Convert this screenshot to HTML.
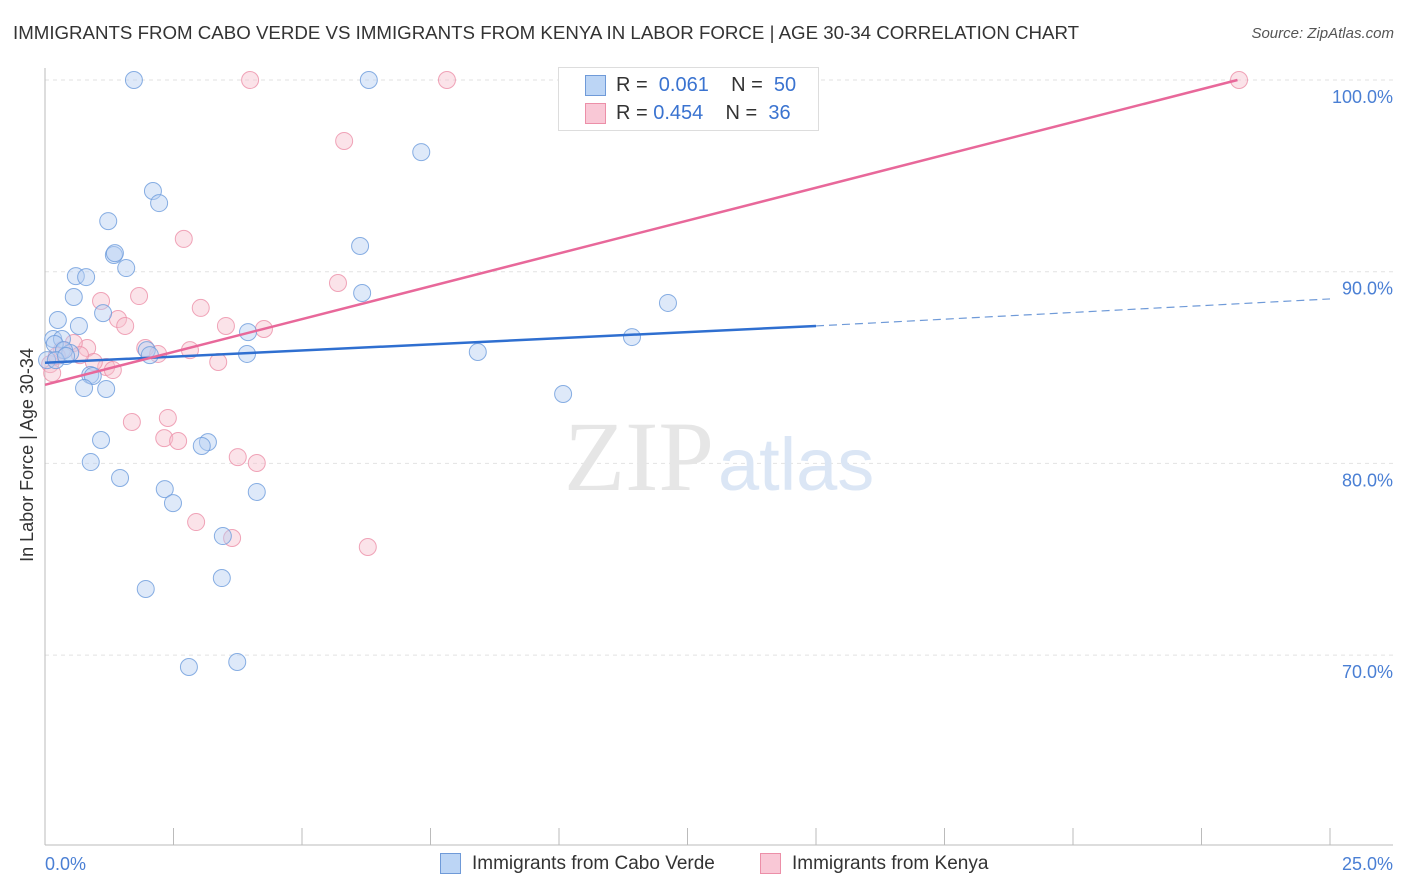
<!DOCTYPE html>
<html><head><meta charset="utf-8">
<style>
body{margin:0;background:#fff;font-family:"Liberation Sans",sans-serif;}
#wrap{position:relative;width:1406px;height:892px;overflow:hidden;}
.t{position:absolute;white-space:nowrap;}
</style></head>
<body>
<div id="wrap">
<div class="t" style="left:13px;top:22px;font-size:18.7px;color:#333;">IMMIGRANTS FROM CABO VERDE VS IMMIGRANTS FROM KENYA IN LABOR FORCE | AGE 30-34 CORRELATION CHART</div>
<div class="t" style="right:12px;top:25px;font-size:15px;color:#555;font-style:italic;">Source: ZipAtlas.com</div>
<svg id="svg" width="1406" height="892" style="position:absolute;left:0;top:0"></svg>
</div>
<script>
const xTickLabels=["0.0%","25.0%"];
const yTicks=[100,90,80,70];
const blueX=[1.73,6.30,7.32,2.10,2.22,1.23,1.34,1.36,1.58,0.60,0.80,6.13,0.56,6.17,1.13,0.25,0.66,3.95,11.42,12.12,0.16,0.33,0.19,0.49,1.98,2.04,3.93,8.42,0.04,0.88,0.93,0.76,1.19,10.08,1.09,3.17,3.05,0.89,1.46,2.33,4.12,2.49,3.46,3.44,1.96,2.80,3.74,0.37,0.21,0.41];
const blueY=[100,100,96.24,94.21,93.58,92.64,90.87,90.97,90.19,89.77,89.72,91.34,88.68,88.89,87.84,87.48,87.17,86.85,86.59,88.37,86.49,86.49,86.23,85.76,85.91,85.65,85.71,85.81,85.39,84.61,84.56,83.93,83.88,83.62,81.22,81.11,80.91,80.07,79.24,78.66,78.51,77.93,76.21,74.02,73.45,69.38,69.64,85.91,85.39,85.60];
const pinkX=[3.99,7.82,23.23,5.82,2.70,5.70,1.83,1.09,3.03,1.42,1.56,3.52,4.26,1.95,0.82,2.82,2.20,0.56,0.33,3.37,1.19,1.32,0.95,0.10,0.14,1.69,2.39,2.32,2.59,3.75,4.12,2.94,3.64,6.28,0.23,0.68];
const pinkY=[100,100,100,96.82,91.71,89.41,88.73,88.47,88.11,87.53,87.17,87.17,87.01,86.02,86.02,85.91,85.71,86.28,85.91,85.29,85.03,84.87,85.29,85.18,84.71,82.16,82.37,81.32,81.17,80.33,80.02,76.94,76.11,75.64,85.60,85.65];
const blueTrend=[[0,85.25],[15,87.17],[25,88.58]];
const pinkTrend=[[0,84.1],[23.2,100]];

const NS="http://www.w3.org/2000/svg";
const svg=document.getElementById('svg');
const X=v=>45+v/25*1285;
const Y=v=>80+(100-v)*19.17;
function mk(tag,a,parent){const e=document.createElementNS(NS,tag);for(const k in a)e.setAttribute(k,a[k]);(parent||svg).appendChild(e);return e;}

yTicks.forEach(v=>{
 const l=mk('line',{x1:45,x2:1393,y1:Y(v),y2:Y(v),stroke:'#e2e2e2','stroke-dasharray':'4,4'});
 
 
 const t=mk('text',{x:1393,y:Y(v)+23,'text-anchor':'end','font-size':18,fill:'#4a7fd4','font-family':'Liberation Sans'});
 t.textContent=v.toFixed(1)+'%';
 
 
});
const ax=mk('line',{x1:45,x2:45,y1:68,y2:845,stroke:'#bbb'});


const axx=mk('line',{x1:45,x2:1393,y1:845,y2:845,stroke:'#bbb'});


for(let i=0;i<=10;i++){
 const tk=mk('line',{x1:X(i*2.5),x2:X(i*2.5),y1:828,y2:845,stroke:'#bbb'});
 
 
}
[[0,45,'start'],[1,1393,'end']].forEach(([i,x,a])=>{
 const t=mk('text',{x:x,y:870,'text-anchor':a,'font-size':18,fill:'#4a7fd4','font-family':'Liberation Sans'});
 t.textContent=xTickLabels[i];
 
 
});
const yt=mk('text',{x:0,y:0,transform:'translate(33,455) rotate(-90)','text-anchor':'middle','font-size':18,fill:'#333','font-family':'Liberation Sans'});
yt.textContent='In Labor Force | Age 30-34';


const wm=mk('text',{x:714,y:490,'text-anchor':'end','font-size':100,fill:'#e6e6e6','font-family':'Liberation Serif'});
wm.textContent='ZIP';


const wm2=mk('text',{x:718,y:490,'font-size':74,fill:'#dbe6f5','font-family':'Liberation Sans'});
wm2.textContent='atlas';



function pts(xs,ys,fill,stroke,name){
 xs.forEach((x,i)=>{
  const c=mk('circle',{cx:X(x),cy:Y(ys[i]),r:8.5,fill:fill,'fill-opacity':0.45,stroke:stroke,'stroke-opacity':0.8,'stroke-width':1});
  
  
 });
}
pts(pinkX,pinkY,'#f7c0cf','#ec8fa8','kenya-point');
pts(blueX,blueY,'#b5cff2','#6b9bdc','cabo-verde-point');

const b1=mk('line',{x1:X(blueTrend[0][0]),y1:Y(blueTrend[0][1]),x2:X(blueTrend[1][0]),y2:Y(blueTrend[1][1]),stroke:'#2f6fd0','stroke-width':2.5});


const b2=mk('line',{x1:X(blueTrend[1][0]),y1:Y(blueTrend[1][1]),x2:X(blueTrend[2][0]),y2:Y(blueTrend[2][1]),stroke:'#6f9ad8','stroke-width':1.2,'stroke-dasharray':'8,5'});


const p1=mk('line',{x1:X(pinkTrend[0][0]),y1:Y(pinkTrend[0][1]),x2:X(pinkTrend[1][0]),y2:Y(pinkTrend[1][1]),stroke:'#e8689a','stroke-width':2.5});


</script>
<div class="t" style="left:558px;top:67px;width:259px;height:62px;border:1px solid #ddd;background:#fff;"></div>
<div class="t" style="left:585px;top:75px;width:19px;height:19px;background:#bcd5f5;border:1px solid #6f9ad8;"></div>
<div class="t" style="left:616px;top:74px;font-size:20px;color:#333;">R = &nbsp;<span style="color:#3a73d0">0.061</span>&nbsp;&nbsp;&nbsp; N = &nbsp;<span style="color:#3a73d0">50</span></div>
<div class="t" style="left:585px;top:103px;width:19px;height:19px;background:#f9c8d6;border:1px solid #ec8fa8;"></div>
<div class="t" style="left:616px;top:102px;font-size:20px;color:#333;">R = <span style="color:#3a73d0">0.454</span>&nbsp;&nbsp;&nbsp; N = &nbsp;<span style="color:#3a73d0">36</span></div>
<div class="t" style="left:440px;top:853px;width:19px;height:19px;background:#bcd5f5;border:1px solid #6f9ad8;"></div>
<div class="t" style="left:472px;top:853px;font-size:19px;color:#333;">Immigrants from Cabo Verde</div>
<div class="t" style="left:760px;top:853px;width:19px;height:19px;background:#f9c8d6;border:1px solid #ec8fa8;"></div>
<div class="t" style="left:792px;top:853px;font-size:19px;color:#333;">Immigrants from Kenya</div>
</body></html>
